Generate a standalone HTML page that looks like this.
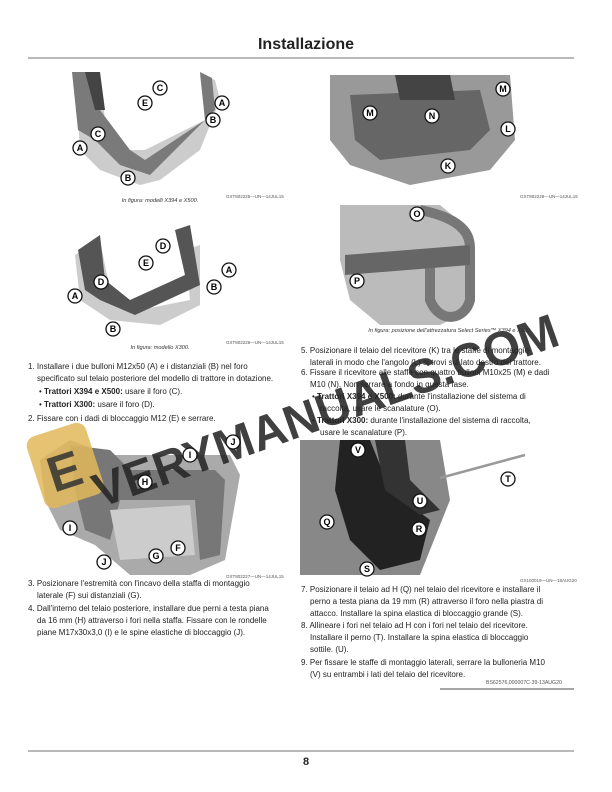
<!DOCTYPE html>
<html><head><meta charset="utf-8"><style>
body{margin:0;background:#fff}
.pg{position:relative;width:612px;height:792px;overflow:hidden;font-family:"Liberation Sans",sans-serif;color:#222}
.cap{position:absolute;font-size:5.6px;font-style:italic;text-align:center;color:#333}
.code{position:absolute;font-size:4.5px;color:#555}
.it{position:absolute;font-size:8px;line-height:12px;padding-left:9px;text-indent:-9px;white-space:nowrap}
.b{position:absolute;font-size:8px;line-height:12px;padding-left:8px;text-indent:-8px;white-space:nowrap}
svg{position:absolute;left:0;top:0}
</style></head><body><div class="pg">
<svg width="612" height="792" viewBox="0 0 612 792">
<defs><g id="c"><circle r="7" fill="#fff" stroke="#111" stroke-width="1.3"/></g></defs>
<line x1="28" y1="58" x2="574" y2="58" stroke="#444" stroke-width="0.8"/>
<line x1="28" y1="751" x2="574" y2="751" stroke="#444" stroke-width="0.8"/>
<line x1="440" y1="689" x2="574" y2="689" stroke="#888" stroke-width="1.5"/>
<polygon points="75,75 100,75 105,120 120,150 145,150 205,120 200,75 215,80 220,100 200,150 160,180 140,185 100,170 80,150" fill="#ccc"/>
<polygon points="72,72 95,72 100,110 130,150 145,160 205,120 200,72 212,78 215,110 150,175 120,165 95,140 78,130" fill="#7a7a7a"/>
<polygon points="85,72 100,72 105,110 95,110" fill="#444"/>
<polygon points="75,255 100,240 110,290 140,310 190,300 185,250 200,245 200,305 160,325 110,320 80,300" fill="#ccc"/>
<polygon points="78,250 100,235 105,280 130,300 185,275 175,230 190,225 200,285 135,315 100,300 85,290" fill="#555"/>
<polygon points="40,460 70,440 110,455 230,455 240,475 225,560 190,575 130,575 95,545 60,530 45,500" fill="#aaa"/>
<polygon points="70,445 110,450 130,470 215,470 225,480 220,555 200,560 195,500 120,500 110,540 85,530 75,490" fill="#777"/>
<polygon points="110,510 190,505 195,555 120,560" fill="#ccc"/>
<polygon points="330,75 510,75 515,140 490,170 410,185 350,165 330,140" fill="#999"/>
<polygon points="350,95 480,90 490,130 470,150 380,160 355,140" fill="#666"/>
<polygon points="395,75 450,75 455,100 400,100" fill="#444"/>
<polygon points="340,205 440,205 470,230 470,310 440,325 380,325 350,300 340,260" fill="#bbb"/>
<path d="M420 210 C470 220 470 240 470 250 L470 300 C465 320 440 325 430 300 L430 250" fill="none" stroke="#777" stroke-width="10"/>
<polygon points="345,255 470,245 470,265 345,275" fill="#666"/>
<polygon points="300,440 440,440 450,500 420,575 300,575" fill="#888"/>
<polygon points="340,440 370,440 390,490 430,520 420,560 380,570 350,540 335,490" fill="#222"/>
<polygon points="375,440 405,440 410,480 440,510 420,515 385,490" fill="#333"/>
<line x1="440" y1="478" x2="525" y2="455" stroke="#999" stroke-width="2.5"/>
<rect x="34" y="428" width="62" height="75" rx="10" fill="#e0b85a" opacity="0.85" transform="rotate(-18 65 465)"/>
<text x="46" y="488" font-family="Liberation Sans" font-weight="bold" font-size="50" fill="#333" opacity="0.85" transform="rotate(-18 65 465)">E</text>
<text x="100" y="508" font-family="Liberation Sans" font-weight="bold" font-size="48" fill="#262626" opacity="0.88" textLength="490" lengthAdjust="spacingAndGlyphs" transform="rotate(-19.5 100 508)">VERYMANUALS.COM</text>
<g font-family="Liberation Sans" font-weight="bold" font-size="9" text-anchor="middle">
<g transform="translate(160,88)"><use href="#c"/><text y="3.2">C</text></g>
<g transform="translate(145,103)"><use href="#c"/><text y="3.2">E</text></g>
<g transform="translate(222,103)"><use href="#c"/><text y="3.2">A</text></g>
<g transform="translate(213,120)"><use href="#c"/><text y="3.2">B</text></g>
<g transform="translate(98,134)"><use href="#c"/><text y="3.2">C</text></g>
<g transform="translate(80,148)"><use href="#c"/><text y="3.2">A</text></g>
<g transform="translate(128,178)"><use href="#c"/><text y="3.2">B</text></g>
<g transform="translate(163,246)"><use href="#c"/><text y="3.2">D</text></g>
<g transform="translate(146,263)"><use href="#c"/><text y="3.2">E</text></g>
<g transform="translate(229,270)"><use href="#c"/><text y="3.2">A</text></g>
<g transform="translate(101,282)"><use href="#c"/><text y="3.2">D</text></g>
<g transform="translate(214,287)"><use href="#c"/><text y="3.2">B</text></g>
<g transform="translate(75,296)"><use href="#c"/><text y="3.2">A</text></g>
<g transform="translate(113,329)"><use href="#c"/><text y="3.2">B</text></g>
<g transform="translate(233,442)"><use href="#c"/><text y="3.2">J</text></g>
<g transform="translate(190,455)"><use href="#c"/><text y="3.2">I</text></g>
<g transform="translate(145,482)"><use href="#c"/><text y="3.2">H</text></g>
<g transform="translate(70,528)"><use href="#c"/><text y="3.2">I</text></g>
<g transform="translate(178,548)"><use href="#c"/><text y="3.2">F</text></g>
<g transform="translate(104,562)"><use href="#c"/><text y="3.2">J</text></g>
<g transform="translate(156,556)"><use href="#c"/><text y="3.2">G</text></g>
<g transform="translate(370,113)"><use href="#c"/><text y="3.2">M</text></g>
<g transform="translate(432,116)"><use href="#c"/><text y="3.2">N</text></g>
<g transform="translate(503,89)"><use href="#c"/><text y="3.2">M</text></g>
<g transform="translate(508,129)"><use href="#c"/><text y="3.2">L</text></g>
<g transform="translate(448,166)"><use href="#c"/><text y="3.2">K</text></g>
<g transform="translate(417,214)"><use href="#c"/><text y="3.2">O</text></g>
<g transform="translate(357,281)"><use href="#c"/><text y="3.2">P</text></g>
<g transform="translate(358,450)"><use href="#c"/><text y="3.2">V</text></g>
<g transform="translate(508,479)"><use href="#c"/><text y="3.2">T</text></g>
<g transform="translate(420,501)"><use href="#c"/><text y="3.2">U</text></g>
<g transform="translate(327,522)"><use href="#c"/><text y="3.2">Q</text></g>
<g transform="translate(419,529)"><use href="#c"/><text y="3.2">R</text></g>
<g transform="translate(367,569)"><use href="#c"/><text y="3.2">S</text></g>
</g>
</svg>
<div style="position:absolute;left:0;width:612px;top:36px;text-align:center;font-weight:bold;font-size:16px">Installazione</div>
<div class="code" style="left:226px;top:194px">GXT802225—UN—14JUL15</div>
<div class="cap" style="left:60px;width:200px;top:198px">In figura: modelli X394 e X500.</div>
<div class="code" style="left:226px;top:340px">GXT802226—UN—14JUL15</div>
<div class="cap" style="left:60px;width:200px;top:345px">In figura: modello X300.</div>
<div class="it" style="left:28px;top:361px">1. Installare i due bulloni M12x50 (A) e i distanziali (B) nel foro<br>specificato sul telaio posteriore del modello di trattore in dotazione.</div>
<div class="b" style="left:39px;top:386px">• <b>Trattori X394 e X500:</b> usare il foro (C).</div>
<div class="b" style="left:39px;top:399px">• <b>Trattori X300:</b> usare il foro (D).</div>
<div class="it" style="left:28px;top:413px">2. Fissare con i dadi di bloccaggio M12 (E) e serrare.</div>
<div class="code" style="left:226px;top:574px">GXT802227—UN—14JUL15</div>
<div class="it" style="left:28px;top:578px">3. Posizionare l'estremità con l'incavo della staffa di montaggio<br>laterale (F) sui distanziali (G).</div>
<div class="it" style="left:28px;top:603px">4. Dall'interno del telaio posteriore, installare due perni a testa piana<br>da 16 mm (H) attraverso i fori nella staffa. Fissare con le rondelle<br>piane M17x30x3,0 (I) e le spine elastiche di bloccaggio (J).</div>
<div class="code" style="left:520px;top:194px">GXT802228—UN—14JUL15</div>
<div class="cap" style="left:320px;width:260px;top:328px">In figura: posizione dell'attrezzatura Select Series™ X394 e X500.</div>
<div class="it" style="left:301px;top:345px">5. Posizionare il telaio del ricevitore (K) tra le staffe di montaggio<br>laterali in modo che l'angolo (L) si trovi sul lato destro del trattore.</div>
<div class="it" style="left:301px;top:367px">6. Fissare il ricevitore alle staffe con quattro bulloni M10x25 (M) e dadi<br>M10 (N). Non serrare a fondo in questa fase.</div>
<div class="b" style="left:312px;top:391px">• <b>Trattori X394 e X500:</b> durante l'installazione del sistema di<br>raccolta, usare le scanalature (O).</div>
<div class="b" style="left:312px;top:415px">• <b>Trattori X300:</b> durante l'installazione del sistema di raccolta,<br>usare le scanalature (P).</div>
<div class="code" style="left:520px;top:578px">GX100019—UN—18AUG20</div>
<div class="it" style="left:301px;top:584px">7. Posizionare il telaio ad H (Q) nel telaio del ricevitore e installare il<br>perno a testa piana da 19 mm (R) attraverso il foro nella piastra di<br>attacco. Installare la spina elastica di bloccaggio grande (S).</div>
<div class="it" style="left:301px;top:620px">8. Allineare i fori nel telaio ad H con i fori nel telaio del ricevitore.<br>Installare il perno (T). Installare la spina elastica di bloccaggio<br>sottile. (U).</div>
<div class="it" style="left:301px;top:657px">9. Per fissare le staffe di montaggio laterali, serrare la bulloneria M10<br>(V) su entrambi i lati del telaio del ricevitore.</div>
<div class="code" style="left:486px;top:680px;font-size:5.2px">BS62576,000007C-39-13AUG20</div>
<div style="position:absolute;left:0;width:612px;top:756px;text-align:center;font-weight:bold;font-size:11px">8</div>
</div></body></html>
